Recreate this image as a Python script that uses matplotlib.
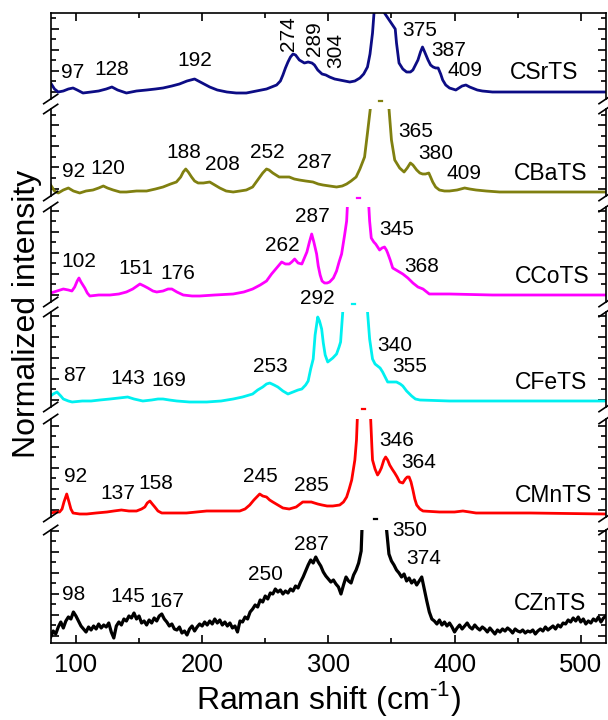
import numpy as np
import matplotlib
matplotlib.use('Agg')
from matplotlib import pyplot as plt
from matplotlib.lines import Line2D
from matplotlib.ticker import MultipleLocator

plt.rcParams['font.family'] = ['Liberation Sans', 'DejaVu Sans']
plt.rcParams['mathtext.fontset'] = 'custom'
plt.rcParams['mathtext.rm'] = 'Liberation Sans'

#--------------
# Raman spectra, shift (cm-1) vs intensity (a.u.); the strong A1 mode runs off the top of each panel

srts_x = [80, 83, 86, 90, 94, 97.7, 101, 105.6, 112, 118, 124, 128.5, 133, 140, 148, 156, 163, 169, 176, 182,
          188, 194, 200, 206, 212, 219.6, 227, 235, 243, 251, 259, 262, 264, 266, 268, 270, 272, 274, 277, 281,
          284, 287, 289, 291.6, 295, 298, 301, 305, 309, 313, 317, 321, 325, 328, 331, 333, 335, 337, 340, 344,
          348, 351.6, 353, 354, 356, 359, 362, 365, 367, 369, 371, 373, 374.6, 376, 379, 381, 383, 385, 387, 389,
          390.6, 393, 396, 401, 406, 409, 412, 414, 418, 422, 430, 450, 480, 520]
srts_y = [16, 10, 7, 8, 10, 11, 9, 6, 7, 8, 10, 12, 9, 6, 8, 9, 10, 11, 13, 15,
          18, 20, 16, 12, 9, 7, 6, 6, 8, 10, 14, 18, 24, 31, 37, 42, 45, 44, 39, 36,
          37, 36, 34, 29, 25, 24, 22, 20, 19, 18, 17, 18, 21, 25, 32, 45, 66, 100, 250, 400,
          250, 100, 70, 56, 36, 30, 27, 27, 29, 34, 39, 47, 52, 48, 39, 34, 32, 31, 31, 25,
          19, 14, 11, 9, 13, 14, 12, 11, 9, 8, 7, 7, 7, 7]

cbats_x = [80, 83, 86, 90, 94, 98, 103, 108, 113.5, 118, 121.7, 125, 129.5, 135, 140, 148, 156, 163, 169, 175,
           179.6, 183, 185, 187, 189, 191.6, 194, 196.8, 201, 206, 210, 214, 219, 224.6, 230, 235, 240, 244, 248, 251,
           253, 256, 261, 265, 269, 273, 277, 282, 287.8, 292, 295.7, 301, 306.5, 311, 314.5, 318, 322, 325, 328.7, 331,
           333.5, 336, 341, 346, 348, 350, 352.6, 356.5, 360, 362.5, 365, 367, 370, 372.5, 374.7, 377, 379.6, 381, 382.7, 385,
           388, 392, 396, 402, 408, 412, 417, 425, 435.7, 460, 490, 520]
cbats_y = [11, 5, 3, 6, 8, 5, 3, 5, 6, 8, 10, 8, 6, 4, 4, 5, 5, 7, 9, 12,
           14, 19, 24, 27, 24, 19, 15, 13, 13, 14, 11, 8, 5, 4, 5, 6, 9, 16, 23, 27,
           26, 23, 19, 19, 19, 17, 16, 15, 14, 12, 11, 10, 9, 10, 12, 15, 19, 27, 39, 63,
           90, 200, 350, 200, 88, 56, 36, 28, 24, 28, 33, 31, 26, 23, 22, 22, 23, 19, 14, 9,
           6, 5, 5, 6, 8, 7, 6, 5, 4, 4, 4, 4]

ccots_x = [80, 85, 90, 94, 96.8, 99, 101, 102.4, 104, 107, 109, 111, 118, 127, 134, 140, 145, 150.7, 154, 157,
           161, 164, 169, 173, 176, 180, 185, 192, 198, 210, 224.6, 233, 240, 246, 251, 255, 259, 263, 266, 269,
           271, 273.3, 276, 279, 281, 283, 285, 286.8, 288.5, 290.7, 292, 293.5, 295, 297, 299, 301, 304, 306.5, 308.5, 310.5,
           313, 314.5, 316, 324, 331, 332.7, 334, 336, 337.5, 340.6, 342.5, 344.5, 346, 347, 349, 351, 355, 359, 363, 367,
           371, 375, 378, 380, 385, 396, 430, 470, 520]
ccots_y = [9, 11, 13, 12, 11, 15, 21, 24, 20, 14, 9, 6, 7, 7, 8, 10, 13, 18, 16, 14,
           11, 10, 11, 13, 13, 10, 7, 6, 6, 7, 8, 10, 13, 17, 21, 28, 34, 40, 38, 38,
           40, 43, 39, 38, 44, 50, 60, 68, 60, 48, 36, 27, 21, 19, 19, 20, 24, 31, 40, 48,
           68, 81, 120, 300, 120, 81, 64, 60, 58, 52, 54, 55, 52, 49, 42, 34, 31, 28, 24, 19,
           15, 13, 10, 8, 8, 8, 7, 7, 7]

cfets_x = [80, 82, 85, 88, 90, 94, 97, 105, 112, 119, 127, 134, 141, 146, 153, 160, 165, 169, 174, 180,
           190, 203.6, 215, 224.6, 232, 240, 244, 248, 251, 253.6, 257, 260, 264, 268, 272, 276, 279, 282, 284, 286,
           288, 289.5, 291.6, 293, 294.7, 296, 297.5, 299.5, 301.5, 303.5, 306.5, 308.5, 309.7, 311.4, 313, 320, 329, 331, 332.7, 335,
           337, 339, 341, 343, 345, 347, 350, 354, 357, 359, 362, 366, 369, 372.6, 396, 440, 520]
cfets_y = [11, 13, 15, 11, 8, 6, 5, 6, 6, 7, 8, 9, 10, 8, 6, 7, 8, 8, 7, 6,
           5, 5, 6, 8, 10, 13, 17, 20, 23, 24, 22, 20, 16, 13, 15, 17, 18, 22, 26, 38,
           48, 72, 90, 86, 78, 64, 52, 45, 47, 49, 53, 60, 65, 95, 150, 300, 150, 96, 68, 48,
           43, 41, 39, 35, 30, 25, 25, 25, 23, 21, 16, 11, 8, 7, 6, 6, 6]

cmnts_x = [80, 84, 87, 89, 90.5, 92.7, 94.5, 96, 97.7, 103, 108.6, 116, 124.6, 130, 136, 142, 148, 152, 154.6, 156.5,
           158.6, 160.5, 162.5, 165, 168, 175, 187.6, 203.6, 215, 229.8, 234, 237.7, 241, 245.6, 248, 251, 253.5, 256, 260, 264,
           269, 274.5, 279.7, 283, 286.5, 289, 291.6, 295, 299, 303.5, 309, 312, 314.5, 316.5, 318.5, 321, 322.3, 323, 328, 333,
           333.5, 334.5, 335, 337, 339, 340.5, 342, 344, 345.4, 347, 348.6, 350.5, 352.6, 354.5, 356.5, 359, 361, 362.5, 364, 365.5,
           367, 368.5, 370, 372.5, 375, 388, 400, 406.6, 412, 417, 460, 520]
cmnts_y = [4, 5, 5, 8, 15, 23, 15, 8, 4, 3, 3, 4, 5, 6, 7, 6, 6, 8, 10, 14,
           16, 13, 10, 6, 4, 4, 4, 6, 6, 6, 8, 12, 17, 23, 21, 20, 17, 15, 12, 9,
           8, 10, 15, 15, 15, 14, 13, 12, 11, 11, 12, 15, 20, 28, 37, 57, 77, 100, 300, 100,
           99, 70, 57, 48, 42, 45, 49, 57, 60, 57, 52, 48, 44, 40, 35, 34, 38, 40, 40, 35,
           27, 18, 12, 8, 6, 5, 5, 6, 5, 4, 4, 3]

# CZnTS was recorded on a 2 cm-1 step and is much noisier
czts_x = np.arange(80, 521, 2)
czts_y = [6, 12, 9, 16, 21, 15, 22, 26, 24, 31,
          27, 22, 17, 14, 11, 16, 13, 17, 14, 19,
          15, 18, 16, 20, 11, 5, 17, 21, 18, 24,
          22, 27, 25, 30, 24, 27, 20, 22, 18, 23,
          20, 25, 22, 27, 29, 24, 21, 17, 19, 14,
          13, 16, 10, 12, 8, 14, 17, 12, 16, 19,
          17, 21, 18, 22, 19, 24, 20, 23, 18, 21,
          17, 20, 15, 17, 11, 22, 21, 26, 24, 31,
          34, 38, 36, 43, 41, 47, 44, 50, 49, 54,
          51, 53, 49, 52, 50, 54, 52, 57, 55, 61,
          66, 72, 78, 83, 80, 86, 81, 77, 71, 67,
          64, 61, 63, 59, 56, 49, 58, 66, 62, 60,
          68, 73, 80, 92, 160, 220, 270, 310, 330, 330,
          310, 270, 200, 115, 89, 82, 78, 73, 70, 66,
          69, 62, 65, 60, 63, 58, 62, 66, 54, 42,
          31, 24, 22, 19, 23, 18, 21, 17, 20, 16,
          11, 15, 18, 14, 17, 20, 16, 14, 18, 15,
          13, 16, 14, 11, 15, 12, 9, 13, 11, 14,
          12, 15, 13, 10, 14, 12, 11, 13, 10, 12,
          11, 13, 9, 12, 14, 12, 16, 13, 15, 17,
          14, 18, 16, 20, 19, 23, 21, 25, 22, 26,
          21, 24, 19, 22, 20, 24, 22, 26, 21, 25,
          27]

samples = ['CSrTS', 'CBaTS', 'CCoTS', 'CFeTS', 'CMnTS', 'CZnTS']
colours = ['#0c0c85', '#808010', '#ff00ff', '#00f0f0', '#ff0000', '#000000']
main_peak = [344, 341, 324, 320, 328, 337]  # A1 mode centre (cm-1)

# peak assignments written on each spectrum
srts_peaks = ['97', '128', '192', '274', '289', '304', '375', '387', '409']
cbats_peaks = ['92', '120', '188', '208', '252', '287', '365', '380', '409']
ccots_peaks = ['102', '151', '176', '262', '287', '345', '368']
cfets_peaks = ['87', '143', '169', '253', '292', '340', '355']
cmnts_peaks = ['92', '137', '158', '245', '285', '346', '364']
czts_peaks = ['98', '145', '167', '250', '287', '350', '374']

# where the peak labels sit (shift, height) and which are turned sideways
srts_pos = [(97.7, 27), (128, 29.5), (194, 38), (268.6, 65), (289.2, 60.5), (306.2, 48.2), (372.3, 69), (395, 48.5), (408, 28.5)]
srts_rot = [0, 0, 0, 90, 90, 90, 0, 0, 0]
cbats_pos = [(97.9, 24.3), (125, 27), (185.6, 43.5), (216, 31), (252, 43.2), (288.8, 33), (369, 64.3), (385, 42.2), (407.6, 22.7)]
ccots_pos = [(102.5, 41), (147.8, 33.8), (180.6, 28.5), (263.5, 56.8), (287.7, 86), (354.5, 72.7), (374.3, 36)]
cfets_pos = [(99, 31.3), (140.8, 28.8), (173.5, 26.3), (254.2, 40.5), (291.5, 108), (352.7, 61.8), (364.8, 40.8)]
cmnts_pos = [(99.5, 40), (133.3, 23.7), (163.2, 33.7), (246, 40), (286.3, 31.2), (354, 77), (371.6, 54.2)]
czts_pos = [(97.9, 48), (140.8, 46.3), (171.8, 41.7), (250.2, 69), (286.9, 98.8), (364.4, 113), (375.3, 84.7)]
name_pos = [(471, 26.5), (476.5, 22.2), (477.3, 25.2), (476.5, 24.7), (478.5, 21.2), (475.4, 39.7)]

xs = [srts_x, cbats_x, ccots_x, cfets_x, cmnts_x, czts_x]
ys = [srts_y, cbats_y, ccots_y, cfets_y, cmnts_y, czts_y]
peaks = [srts_peaks, cbats_peaks, ccots_peaks, cfets_peaks, cmnts_peaks, czts_peaks]
pos = [srts_pos, cbats_pos, ccots_pos, cfets_pos, cmnts_pos, czts_pos]

#--------------
# stacked panels with a broken y axis; panel extents in pixels (top, bottom)
W, H = 608, 720
x_left, x_right = 50.7, 606
panel_px = [(13, 99), (109, 196), (207, 302), (312, 407), (419, 517), (530, 643)]
n = len(panel_px)

fig = plt.figure(figsize=(W/100, H/100), dpi=100)
axes = []
for i, (top, bot) in enumerate(panel_px):
    ax = fig.add_axes([x_left/W, 1 - bot/H, (x_right - x_left)/W, (bot - top)/H])
    ax.plot(xs[i], ys[i], color=colours[i], lw=2.3 if i == n - 1 else 2.0)
    ax.set_xlim(80, 520)
    ax.set_ylim(0, bot - top)
    ax.patch.set_alpha(0)
    for s in ['left', 'right', 'top', 'bottom']:
        ax.spines[s].set_linewidth(1.2)
    ax.spines['top'].set_visible(i == 0)
    ax.spines['bottom'].set_visible(i == n - 1)
    ax.yaxis.set_major_locator(MultipleLocator(21, offset=7.5))
    ax.yaxis.set_minor_locator(MultipleLocator(10.5, offset=7.5))
    ax.tick_params(axis='y', which='both', direction='in', left=True, right=True, labelleft=False, width=1.2)
    ax.tick_params(axis='y', which='major', length=5.5)
    ax.tick_params(axis='y', which='minor', length=3.5)
    ax.xaxis.set_major_locator(MultipleLocator(100))
    ax.xaxis.set_minor_locator(MultipleLocator(50))
    ax.tick_params(axis='x', which='both', direction='in', width=1.2,
                   bottom=(i == n - 1), top=(i == 0),
                   labelbottom=(i == n - 1), labeltop=False, labelsize=18.5, pad=7)
    ax.tick_params(axis='x', which='major', length=5.5)
    ax.tick_params(axis='x', which='minor', length=3.5)

    for lab, (px, py), r in zip(peaks[i], pos[i], srts_rot if i == 0 else [0]*len(peaks[i])):
        ax.text(px, py, lab, fontsize=15, ha='center', va='center', rotation=r, clip_on=False)
    ax.text(name_pos[i][0], name_pos[i][1], samples[i], fontsize=16.5, ha='center', va='center')

    # tip of the clipped main peak shows just under the panel above
    if i > 0:
        gap = top - panel_px[i-1][1]
        ax.plot([main_peak[i] - 1.2, main_peak[i] + 1.2], [bot - top + gap - 2]*2,
                color=colours[i], lw=1.6, clip_on=False)
    axes.append(ax)

# break marks on both y axes
for i in range(n - 1):
    for yb in (panel_px[i][1], panel_px[i+1][0]):
        for xb in (x_left, x_right):
            fig.add_artist(Line2D([(xb - 7)/W, (xb + 7)/W], [1 - (yb + 4.7)/H, 1 - (yb - 4.7)/H],
                                  color='k', lw=1.2))

axes[-1].set_xlabel('Raman shift (cm$^{\\text{-1}}$)', fontsize=23, labelpad=2)
fig.text(27.5/W, 1 - 313.5/H, 'Normalized intensity', rotation=90, fontsize=23, ha='center', va='center')

plt.savefig('out.png', dpi=100)
